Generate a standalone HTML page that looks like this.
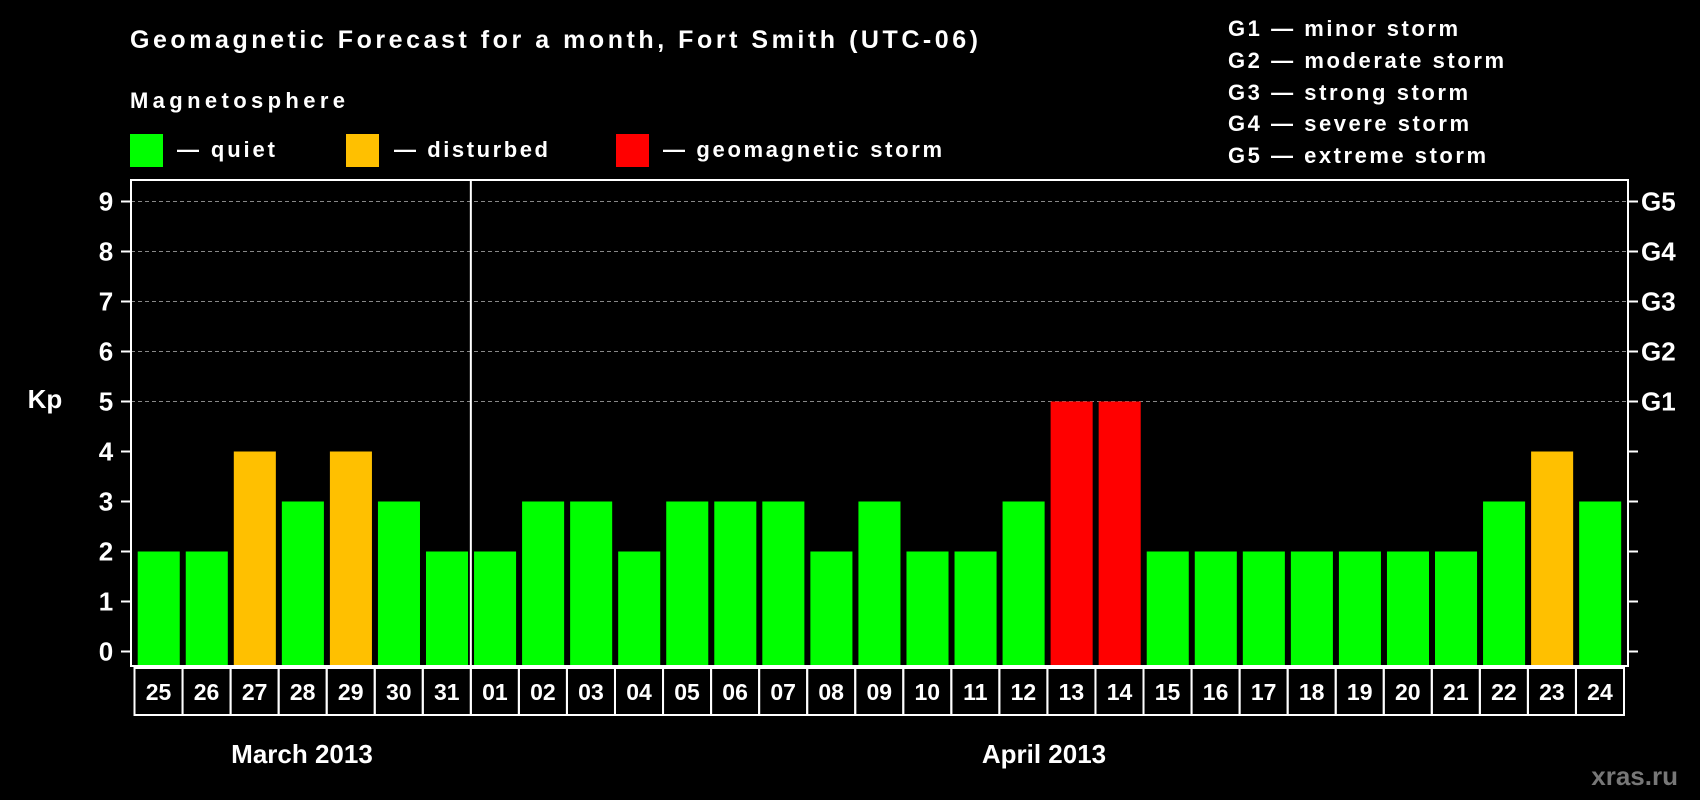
<!DOCTYPE html>
<html><head><meta charset="utf-8"><style>
html,body{margin:0;padding:0;background:#000;}
svg{display:block;font-family:"Liberation Sans",Arial,sans-serif;font-weight:bold;}
</style></head><body>
<svg id="chart" width="1700" height="800" viewBox="0 0 1700 800">
<rect width="1700" height="800" fill="#000"/>
<text x="130" y="48" fill="#fff" font-size="25" textLength="848">Geomagnetic Forecast for a month, Fort Smith (UTC-06)</text>
<text x="130" y="108" fill="#fff" font-size="22" textLength="215">Magnetosphere</text>
<rect x="130" y="134" width="33" height="33" fill="#00ff00"/>
<text x="177" y="157" fill="#fff" font-size="22" textLength="98">— quiet</text>
<rect x="346" y="134" width="33" height="33" fill="#ffc000"/>
<text x="394" y="157" fill="#fff" font-size="22" textLength="154">— disturbed</text>
<rect x="616" y="134" width="33" height="33" fill="#ff0000"/>
<text x="663" y="157" fill="#fff" font-size="22" textLength="279">— geomagnetic storm</text>
<g fill="#fff" font-size="22">
<text x="1228" y="36" textLength="230">G1 — minor storm</text>
<text x="1228" y="68" textLength="276">G2 — moderate storm</text>
<text x="1228" y="100" textLength="240">G3 — strong storm</text>
<text x="1228" y="131" textLength="241">G4 — severe storm</text>
<text x="1228" y="163" textLength="258">G5 — extreme storm</text>
</g>
<text x="45" y="408" fill="#fff" font-size="26" text-anchor="middle">Kp</text>
<text x="302" y="763" fill="#fff" font-size="26" text-anchor="middle">March 2013</text>
<text x="1044" y="763" fill="#fff" font-size="26" text-anchor="middle">April 2013</text>
<text x="1678" y="785" fill="#777" font-size="26" text-anchor="end">xras.ru</text>
<g id="plot"></g>
</svg>
<script>
const days = ["25","26","27","28","29","30","31","01","02","03","04","05","06","07","08","09","10","11","12","13","14","15","16","17","18","19","20","21","22","23","24"];
const kpValues = [2,2,4,3,4,3,2,2,3,3,2,3,3,3,2,3,2,2,3,5,5,2,2,2,2,2,2,2,3,4,3];
const yTicks = [0,1,2,3,4,5,6,7,8,9];
const gLabels = ["G1","G2","G3","G4","G5"];
const gLevels = [5,6,7,8,9];
const NS = "http://www.w3.org/2000/svg";
const g = document.getElementById("plot");
const L = 131, R = 1628, T = 180, B = 666;
const y0 = 651.5, yUnit = 50;
const n = days.length;
const cellL = 134.5, cellR = 1624;
const pitch = (cellR - cellL) / n;
function yScale(v){ return y0 - v * yUnit; }
function xScale(i){ return cellL + i * pitch; }
function mk(tag, attrs){ const e = document.createElementNS(NS, tag); for (const k in attrs) e.setAttribute(k, attrs[k]); g.appendChild(e); return e; }
function color(v){ return v >= 5 ? "#ff0000" : (v >= 4 ? "#ffc000" : "#00ff00"); }
// grid
gLevels.forEach(v => {
  const l = mk("line", {x1:L, x2:R, y1:yScale(v), y2:yScale(v), stroke:"#888", "stroke-dasharray":"4,3", "stroke-width":1});
  
  
});
// bars
kpValues.forEach((v, i) => {
  const r = mk("rect", {x:xScale(i)+3.2, y:yScale(v), width:pitch-6, height:y0 - yScale(v) + 14, fill:color(v)});
  
  
});
// frame
const fr = mk("rect", {x:L, y:T, width:R-L, height:B-T, fill:"none", stroke:"#fff", "stroke-width":2});


const dv = mk("line", {x1:xScale(7), x2:xScale(7), y1:T, y2:B, stroke:"#fff", "stroke-width":2});


// y ticks
yTicks.forEach(v => {
  const t = mk("line", {x1:L-10, x2:L, y1:yScale(v), y2:yScale(v), stroke:"#fff", "stroke-width":2});
  
  
  const t2 = mk("line", {x1:R, x2:R+10, y1:yScale(v), y2:yScale(v), stroke:"#fff", "stroke-width":2});
  
  
  const tx = mk("text", {x:106, y:yScale(v)+9, fill:"#fff", "font-size":26, "text-anchor":"middle"});
  tx.textContent = v;
  
  
});
gLabels.forEach((s, i) => {
  const tx = mk("text", {x:1641, y:yScale(gLevels[i])+9, fill:"#fff", "font-size":26});
  tx.textContent = s;
  
  
});
// date cells
days.forEach((d, i) => {
  const c = mk("rect", {x:xScale(i), y:668, width:pitch, height:47, fill:"none", stroke:"#fff", "stroke-width":2});
  
  
  const tx = mk("text", {x:xScale(i)+pitch/2, y:700, fill:"#fff", "font-size":23, "text-anchor":"middle"});
  tx.textContent = d;
  
  
});
</script>
</body></html>
